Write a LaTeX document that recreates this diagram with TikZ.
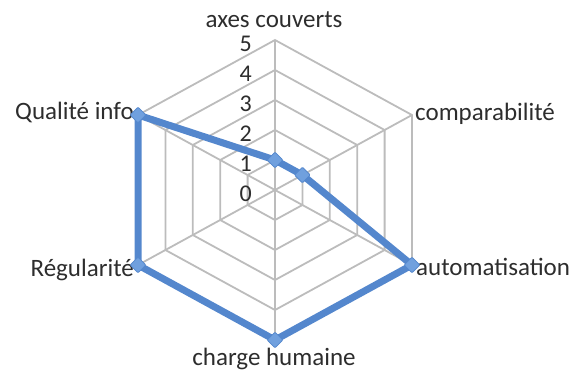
\documentclass[tikz,border=0pt]{standalone}
\usepackage{fontspec}
\setmainfont{Carlito}
\usetikzlibrary{shapes.geometric}
\definecolor{gridgray}{RGB}{188,188,188}
\definecolor{serie}{RGB}{84,135,205}
\definecolor{markfill}{RGB}{112,160,222}
\definecolor{txt}{RGB}{45,45,45}
\begin{document}
\begin{tikzpicture}[x=1pt,y=-1pt,
  gridline/.style={draw=gridgray,line width=1.8pt},
  serieline/.style={draw=serie,line width=7pt,line join=round},
  mk/.style={diamond,fill=markfill,draw=serie,line width=0.8pt,minimum width=16pt,minimum height=16pt,inner sep=0pt,rounded corners=1pt},
  lbl/.style={font=\fontsize{25}{25}\selectfont,text=txt,inner sep=0pt},
  tick/.style={font=\fontsize{24}{24}\selectfont,text=txt,inner sep=0pt,anchor=base east}]
\useasboundingbox (0,0) rectangle (574,376);
\coordinate (C) at (275,190);
% grid hexagons
\foreach \L in {1,...,5}{
  \draw[gridline] (275,{190-30*\L}) -- ({275+27.4*\L},{190-15*\L}) -- ({275+27.4*\L},{190+15*\L})
    -- (275,{190+30*\L}) -- ({275-27.4*\L},{190+15*\L}) -- ({275-27.4*\L},{190-15*\L}) -- cycle;
}
% axis ends
\coordinate (a1) at (275,40);
\coordinate (a2) at (412,115);
\coordinate (a3) at (412,265);
\coordinate (a4) at (275,340);
\coordinate (a5) at (138,265);
\coordinate (a6) at (138,115);
\foreach \i in {1,...,6}{\draw[gridline] (C) -- (a\i);}
% tick labels
\foreach \L in {0,...,5}{
  \node[tick] (t\L) at (252,{190-30*\L+11}) {\L};
}
% axis labels
\node[lbl,anchor=base] (l1) at (274,27) {axes couverts};
\node[lbl,anchor=base west] (l2) at (415,120) {comparabilité};
\node[lbl,anchor=base west] (l3) at (416,275) {automatisation};
\node[lbl,anchor=base] (l4) at (274,365) {charge humaine};
\node[lbl,anchor=base east] (l5) at (134,276) {Régularité};
\node[lbl,anchor=base east] (l6) at (134,119) {Qualité info};
% series
\coordinate (d1) at (275,160);
\coordinate (d2) at (302.4,175);
\coordinate (d3) at (a3);
\coordinate (d4) at (a4);
\coordinate (d5) at (a5);
\coordinate (d6) at (a6);
\draw[serieline] (d1) -- (d2) -- (d3) -- (d4) -- (d5) -- (d6) -- cycle;
\foreach \i in {1,...,6}{\node[mk] (m\i) at (d\i) {};}
\end{tikzpicture}
\end{document}
